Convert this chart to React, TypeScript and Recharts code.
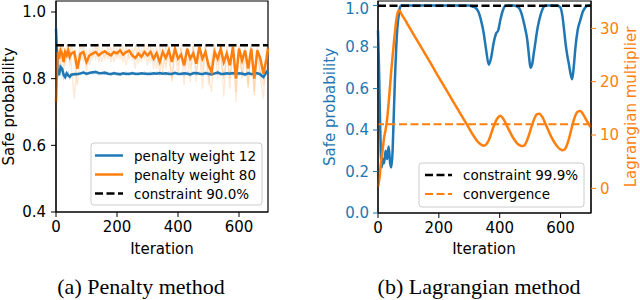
import React from 'react';
import { ComposedChart, Line, XAxis, YAxis, ReferenceLine, ReferenceArea } from 'recharts';

const BLUE = '#1f77b4';
const ORANGE = '#ff7f0e';
const FONT = '"DejaVu Sans", sans-serif';
const SERIF = '"Liberation Serif", "Times New Roman", serif';

// ---------- Panel (a): penalty method ----------
const A_ITER = [
  0, 5, 10, 15, 20, 25, 30, 35, 40, 45,
  50, 60, 70, 80, 90, 100, 110, 120, 130, 140,
  150, 160, 170, 180, 190, 200, 210, 220, 230, 240,
  250, 260, 270, 280, 290, 300, 310, 320, 330, 340,
  350, 360, 370, 380, 390, 400, 410, 420, 430, 440,
  450, 460, 470, 480, 490, 500, 510, 520, 530, 540,
  550, 560, 570, 580, 590, 600, 610, 620, 630, 640,
  650, 660, 670, 680, 690, 695,
];
const A_W12 = [
  0.95, 0.83, 0.81, 0.835, 0.83, 0.812, 0.805, 0.816, 0.81, 0.806,
  0.812, 0.814, 0.813, 0.816, 0.818, 0.815, 0.817, 0.819, 0.82, 0.817,
  0.816, 0.818, 0.815, 0.814, 0.816, 0.815, 0.813, 0.816, 0.814, 0.815,
  0.816, 0.815, 0.814, 0.816, 0.815, 0.815, 0.814, 0.816, 0.815, 0.817,
  0.815, 0.816, 0.814, 0.815, 0.817, 0.815, 0.814, 0.816, 0.815, 0.813,
  0.816, 0.817, 0.815, 0.814, 0.816, 0.815, 0.813, 0.816, 0.818, 0.815,
  0.814, 0.816, 0.815, 0.817, 0.814, 0.816, 0.815, 0.813, 0.816, 0.814,
  0.815, 0.817, 0.812, 0.805, 0.82, 0.815,
];
const A_W12_RUN = [
  0.98, 0.80, 0.825, 0.845, 0.815, 0.80, 0.812, 0.805, 0.818, 0.80,
  0.808, 0.81, 0.818, 0.812, 0.822, 0.81, 0.82, 0.814, 0.824, 0.812,
  0.82, 0.813, 0.819, 0.81, 0.82, 0.811, 0.818, 0.812, 0.819, 0.81,
  0.82, 0.811, 0.818, 0.812, 0.82, 0.81, 0.819, 0.812, 0.82, 0.812,
  0.819, 0.811, 0.82, 0.81, 0.821, 0.812, 0.818, 0.81, 0.82, 0.809,
  0.82, 0.812, 0.819, 0.81, 0.821, 0.811, 0.817, 0.812, 0.822, 0.81,
  0.819, 0.812, 0.82, 0.811, 0.819, 0.812, 0.82, 0.808, 0.821, 0.81,
  0.82, 0.812, 0.818, 0.80, 0.825, 0.81,
];
const A_W80 = [
  0.73, 0.88, 0.86, 0.885, 0.875, 0.85, 0.88, 0.87, 0.885, 0.865,
  0.875, 0.88, 0.83, 0.875, 0.88, 0.85, 0.87, 0.875, 0.88, 0.87,
  0.877, 0.882, 0.875, 0.87, 0.88, 0.876, 0.885, 0.872, 0.88, 0.884,
  0.87, 0.862, 0.875, 0.866, 0.88, 0.87, 0.88, 0.86, 0.876, 0.85,
  0.88, 0.862, 0.885, 0.85, 0.89, 0.86, 0.872, 0.84, 0.89, 0.86,
  0.876, 0.845, 0.895, 0.86, 0.88, 0.84, 0.82, 0.88, 0.86, 0.89,
  0.85, 0.875, 0.84, 0.895, 0.80, 0.89, 0.855, 0.885, 0.83, 0.89,
  0.80, 0.885, 0.86, 0.815, 0.86, 0.89,
];
const A_W80_RUN1 = [
  0.65, 0.86, 0.89, 0.84, 0.9, 0.82, 0.87, 0.9, 0.86, 0.89,
  0.84, 0.74, 0.86, 0.9, 0.85, 0.88, 0.84, 0.89, 0.86, 0.9,
  0.85, 0.88, 0.86, 0.895, 0.85, 0.89, 0.86, 0.9, 0.84, 0.89,
  0.86, 0.9, 0.845, 0.89, 0.86, 0.9, 0.85, 0.89, 0.83, 0.9,
  0.82, 0.9, 0.86, 0.8, 0.9, 0.84, 0.89, 0.78, 0.9, 0.83,
  0.9, 0.79, 0.905, 0.82, 0.9, 0.78, 0.86, 0.9, 0.8, 0.905,
  0.746, 0.9, 0.8, 0.905, 0.76, 0.9, 0.81, 0.905, 0.77, 0.9,
  0.76, 0.9, 0.8, 0.74, 0.9, 0.86,
];
const A_W80_RUN2 = [
  0.8, 0.9, 0.84, 0.9, 0.85, 0.89, 0.84, 0.88, 0.9, 0.84,
  0.9, 0.86, 0.78, 0.86, 0.9, 0.82, 0.89, 0.86, 0.9, 0.85,
  0.89, 0.86, 0.895, 0.85, 0.9, 0.86, 0.895, 0.85, 0.9, 0.86,
  0.89, 0.83, 0.9, 0.85, 0.9, 0.84, 0.9, 0.83, 0.9, 0.81,
  0.9, 0.83, 0.9, 0.79, 0.88, 0.81, 0.9, 0.83, 0.86, 0.79,
  0.9, 0.82, 0.88, 0.77, 0.9, 0.81, 0.76, 0.9, 0.84, 0.87,
  0.8, 0.89, 0.77, 0.9, 0.73, 0.9, 0.8, 0.87, 0.78, 0.905,
  0.75, 0.89, 0.82, 0.78, 0.84, 0.9,
];
const A_CONSTRAINT = 0.9;
const A_X_DOMAIN = [0, 695];
const A_Y_DOMAIN = [0.4, 1.033];
const A_X_TICKS = [0, 200, 400, 600];
const A_Y_TICKS = [0.4, 0.6, 0.8, 1.0];
const A_LEGEND = ['penalty weight 12', 'penalty weight 80', 'constraint 90.0%'];

// ---------- Panel (b): Lagrangian method ----------
const B_ITER = [
  0, 3, 6, 9, 12, 16, 20, 25, 30, 35,
  40, 44, 48, 52, 56, 60, 64, 68, 72, 76,
  80, 90, 100, 125, 150, 175, 200, 225, 250, 275,
  300, 310, 320, 330, 340, 347, 355, 364, 372, 380,
  388, 395, 402, 410, 418, 430, 445, 458, 465, 472,
  479, 485, 490, 496, 501, 507, 512, 518, 523, 530,
  540, 551, 570, 590, 600, 606, 611, 617, 622, 627,
  633, 638, 643, 649, 656, 665, 673, 681, 690, 700,
];
const B_SAFE = [
  0.88, 0.72, 0.5, 0.3, 0.22, 0.26, 0.24, 0.3, 0.26, 0.32,
  0.24, 0.22, 0.3, 0.48, 0.66, 0.8, 0.9, 0.95, 0.99, 1.0,
  1.0, 1.0, 1.0, 1.0, 1.0, 1.0, 1.0, 1.0, 1.0, 1.0,
  1.0, 0.995, 0.99, 0.97, 0.92, 0.87, 0.79, 0.715, 0.75, 0.82,
  0.865, 0.88, 0.93, 0.975, 0.998, 1.0, 1.0, 0.995, 0.985, 0.96,
  0.92, 0.88, 0.84, 0.76, 0.70, 0.72, 0.77, 0.83, 0.88, 0.93,
  0.98, 1.0, 1.0, 1.0, 0.99, 0.95, 0.89, 0.81, 0.76, 0.72,
  0.67, 0.645, 0.7, 0.8, 0.88, 0.93, 0.97, 0.99, 1.0, 1.0,
];
const B_LAMBDA = [
  0.3, 1.2, 2.5, 4.4, 5.8, 7.5, 9.5, 11, 13, 16,
  19.5, 22.3, 24.8, 27.2, 29.5, 31.5, 32.8, 33.35, 33.3, 32.8,
  32.4, 31.5, 30.5, 28.1, 25.7, 23.3, 20.8, 18.4, 16.0, 13.6,
  11.2, 10.2, 9.35, 8.6, 8.15, 8.0, 8.2, 9.0, 10.3, 11.6,
  12.7, 13.3, 13.6, 13.2, 12.4, 11.0, 9.4, 8.4, 8.1, 7.95,
  8.0, 8.4, 9.0, 10.0, 10.9, 12.0, 12.8, 13.6, 13.9, 14.0,
  13.4, 12.0, 9.6, 7.8, 7.3, 7.15, 7.2, 7.6, 8.3, 9.2,
  10.5, 11.7, 12.7, 13.7, 14.4, 14.5, 14.0, 13.2, 12.3, 11.4,
];
const B_CONSTRAINT = 0.999;
const B_CONVERGENCE = 12;
const B_X_DOMAIN = [0, 700];
const B_Y_DOMAIN = [0, 1.022];
const B_Y2_DOMAIN = [-4.63, 35.14];
const B_X_TICKS = [0, 200, 400, 600];
const B_Y_TICKS = [0, 0.2, 0.4, 0.6, 0.8, 1.0];
const B_Y2_TICKS = [0, 10, 20, 30];
const B_LEGEND = ['constraint 99.9%', 'convergence'];

const dataA = A_ITER.map((it, i) => ({
  it,
  w12: A_W12[i],
  w12run: A_W12_RUN[i],
  w80: A_W80[i],
  r1: A_W80_RUN1[i],
  r2: A_W80_RUN2[i],
}));
const dataB = B_ITER.map((it, i) => ({ it, safe: B_SAFE[i], lam: B_LAMBDA[i] }));

const TICK_FS = 15;
const tickStyle = (fill: string) => ({ fill, fontSize: TICK_FS, fontFamily: FONT });

export default function App() {
  return (
    <div style={{ position: 'fixed', left: 0, top: 0, width: 640, height: 300, background: '#fff', overflow: 'hidden' }}>
      <div style={{ position: 'absolute', left: 0, top: 0 }}>
        <ComposedChart width={280} height={300} data={dataA} margin={{ top: 1, right: 12, bottom: 0, left: 0 }}>
          <XAxis
            dataKey="it"
            type="number"
            domain={A_X_DOMAIN}
            ticks={A_X_TICKS}
            height={88}
            tickSize={5}
            tickMargin={4}
            axisLine={{ stroke: '#000' }}
            tickLine={{ stroke: '#000' }}
            tick={tickStyle('#000')}
          />
          <YAxis
            type="number"
            domain={A_Y_DOMAIN}
            ticks={A_Y_TICKS}
            width={56}
            tickSize={5}
            tickMargin={5}
            tickFormatter={(v: number) => v.toFixed(1)}
            axisLine={{ stroke: '#000' }}
            tickLine={{ stroke: '#000' }}
            tick={tickStyle('#000')}
          />
          <Line dataKey="r1" stroke={ORANGE} strokeOpacity={0.18} strokeWidth={1.3} dot={false} isAnimationActive={false} />
          <Line dataKey="r2" stroke={ORANGE} strokeOpacity={0.18} strokeWidth={1.3} dot={false} isAnimationActive={false} />
          <Line dataKey="w12run" stroke={BLUE} strokeOpacity={0.25} strokeWidth={1.5} dot={false} isAnimationActive={false} />
          <Line dataKey="w12" stroke={BLUE} strokeWidth={2.5} dot={false} isAnimationActive={false} />
          <Line dataKey="w80" stroke={ORANGE} strokeWidth={2.5} dot={false} isAnimationActive={false} />
          <ReferenceLine y={A_CONSTRAINT} stroke="#000" strokeWidth={2.5} strokeDasharray="8 3.5" />
          <ReferenceArea x1={A_X_DOMAIN[0]} x2={A_X_DOMAIN[1]} y1={A_Y_DOMAIN[0]} y2={A_Y_DOMAIN[1]} fill="none" stroke="#000" strokeWidth={1.2} fillOpacity={0} />
        </ComposedChart>
      </div>
      <div style={{ position: 'absolute', left: 320, top: 0 }}>
        <ComposedChart width={320} height={300} data={dataB} margin={{ top: 1, right: 0, bottom: 0, left: 0 }}>
          <XAxis
            dataKey="it"
            type="number"
            domain={B_X_DOMAIN}
            ticks={B_X_TICKS}
            height={87}
            tickSize={5}
            tickMargin={4}
            axisLine={{ stroke: '#000' }}
            tickLine={{ stroke: '#000' }}
            tick={tickStyle('#000')}
          />
          <YAxis
            yAxisId="left"
            type="number"
            domain={B_Y_DOMAIN}
            ticks={B_Y_TICKS}
            width={58}
            tickSize={5}
            tickMargin={4}
            tickFormatter={(v: number) => v.toFixed(1)}
            axisLine={{ stroke: '#000' }}
            tickLine={{ stroke: BLUE }}
            tick={tickStyle(BLUE)}
          />
          <YAxis
            yAxisId="right"
            orientation="right"
            type="number"
            domain={B_Y2_DOMAIN}
            ticks={B_Y2_TICKS}
            width={49}
            tickSize={5}
            tickMargin={4}
            axisLine={{ stroke: '#000' }}
            tickLine={{ stroke: ORANGE }}
            tick={tickStyle(ORANGE)}
          />
          <Line yAxisId="left" type="monotone" dataKey="safe" stroke={BLUE} strokeWidth={2.5} dot={false} isAnimationActive={false} />
          <ReferenceLine yAxisId="left" y={B_CONSTRAINT} stroke="#000" strokeWidth={2.5} strokeDasharray="8 3.5" />
          <Line yAxisId="right" type="monotone" dataKey="lam" stroke={ORANGE} strokeWidth={2.5} dot={false} isAnimationActive={false} />
          <ReferenceLine yAxisId="right" y={B_CONVERGENCE} stroke={ORANGE} strokeWidth={2} strokeDasharray="8 3.5" />
          <ReferenceArea yAxisId="left" x1={B_X_DOMAIN[0]} x2={B_X_DOMAIN[1]} y1={B_Y_DOMAIN[0]} y2={B_Y_DOMAIN[1]} fill="none" stroke="#000" strokeWidth={1.2} fillOpacity={0} />
        </ComposedChart>
      </div>
      <svg width={640} height={300} style={{ position: 'absolute', left: 0, top: 0, pointerEvents: 'none' }}>
        {/* legend (a) */}
        <rect x={91} y={143} width={171} height={62} rx={3} fill="#fff" fillOpacity={0.8} stroke="#ccc" />
        <line x1={95} x2={123} y1={155.5} y2={155.5} stroke={BLUE} strokeWidth={2.5} />
        <line x1={95} x2={123} y1={174.5} y2={174.5} stroke={ORANGE} strokeWidth={2.5} />
        <line x1={95} x2={123} y1={193.5} y2={193.5} stroke="#000" strokeWidth={2.5} strokeDasharray="8 3.5" />
        {A_LEGEND.map((t, i) => (
          <text key={t} x={134} y={155.5 + i * 19} dominantBaseline="central" fontFamily={FONT} fontSize={13.5} fill="#000">{t}</text>
        ))}
        {/* legend (b) */}
        <rect x={419} y={163} width={165} height={44} rx={3} fill="#fff" fillOpacity={0.8} stroke="#ccc" />
        <line x1={425} x2={452} y1={175} y2={175} stroke="#000" strokeWidth={2.5} strokeDasharray="8 3.5" />
        <line x1={425} x2={452} y1={194} y2={194} stroke={ORANGE} strokeWidth={2} strokeDasharray="8 3.5" />
        {B_LEGEND.map((t, i) => (
          <text key={t} x={463} y={175 + i * 19} dominantBaseline="central" fontFamily={FONT} fontSize={13.5} fill="#000">{t}</text>
        ))}
        {/* axis titles */}
        <text x={13.5} y={106.5} transform="rotate(-90, 13.5, 106.5)" textAnchor="middle" fontFamily={FONT} fontSize={15} fill="#000">Safe probability</text>
        <text x={162} y={254} textAnchor="middle" fontFamily={FONT} fontSize={15} fill="#000">Iteration</text>
        <text x={335} y={107} transform="rotate(-90, 335, 107)" textAnchor="middle" fontFamily={FONT} fontSize={15} fill={BLUE}>Safe probability</text>
        <text x={635.5} y={107} transform="rotate(-90, 635.5, 107)" textAnchor="middle" fontFamily={FONT} fontSize={15} fill={ORANGE}>Lagrangian multiplier</text>
        <text x={484} y={254} textAnchor="middle" fontFamily={FONT} fontSize={15} fill="#000">Iteration</text>
        {/* captions */}
        <text x={141} y={293.5} textAnchor="middle" fontFamily={SERIF} fontSize={22} fill="#000">(a) Penalty method</text>
        <text x={479} y={293.5} textAnchor="middle" fontFamily={SERIF} fontSize={22} fill="#000">(b) Lagrangian method</text>
      </svg>
    </div>
  );
}
